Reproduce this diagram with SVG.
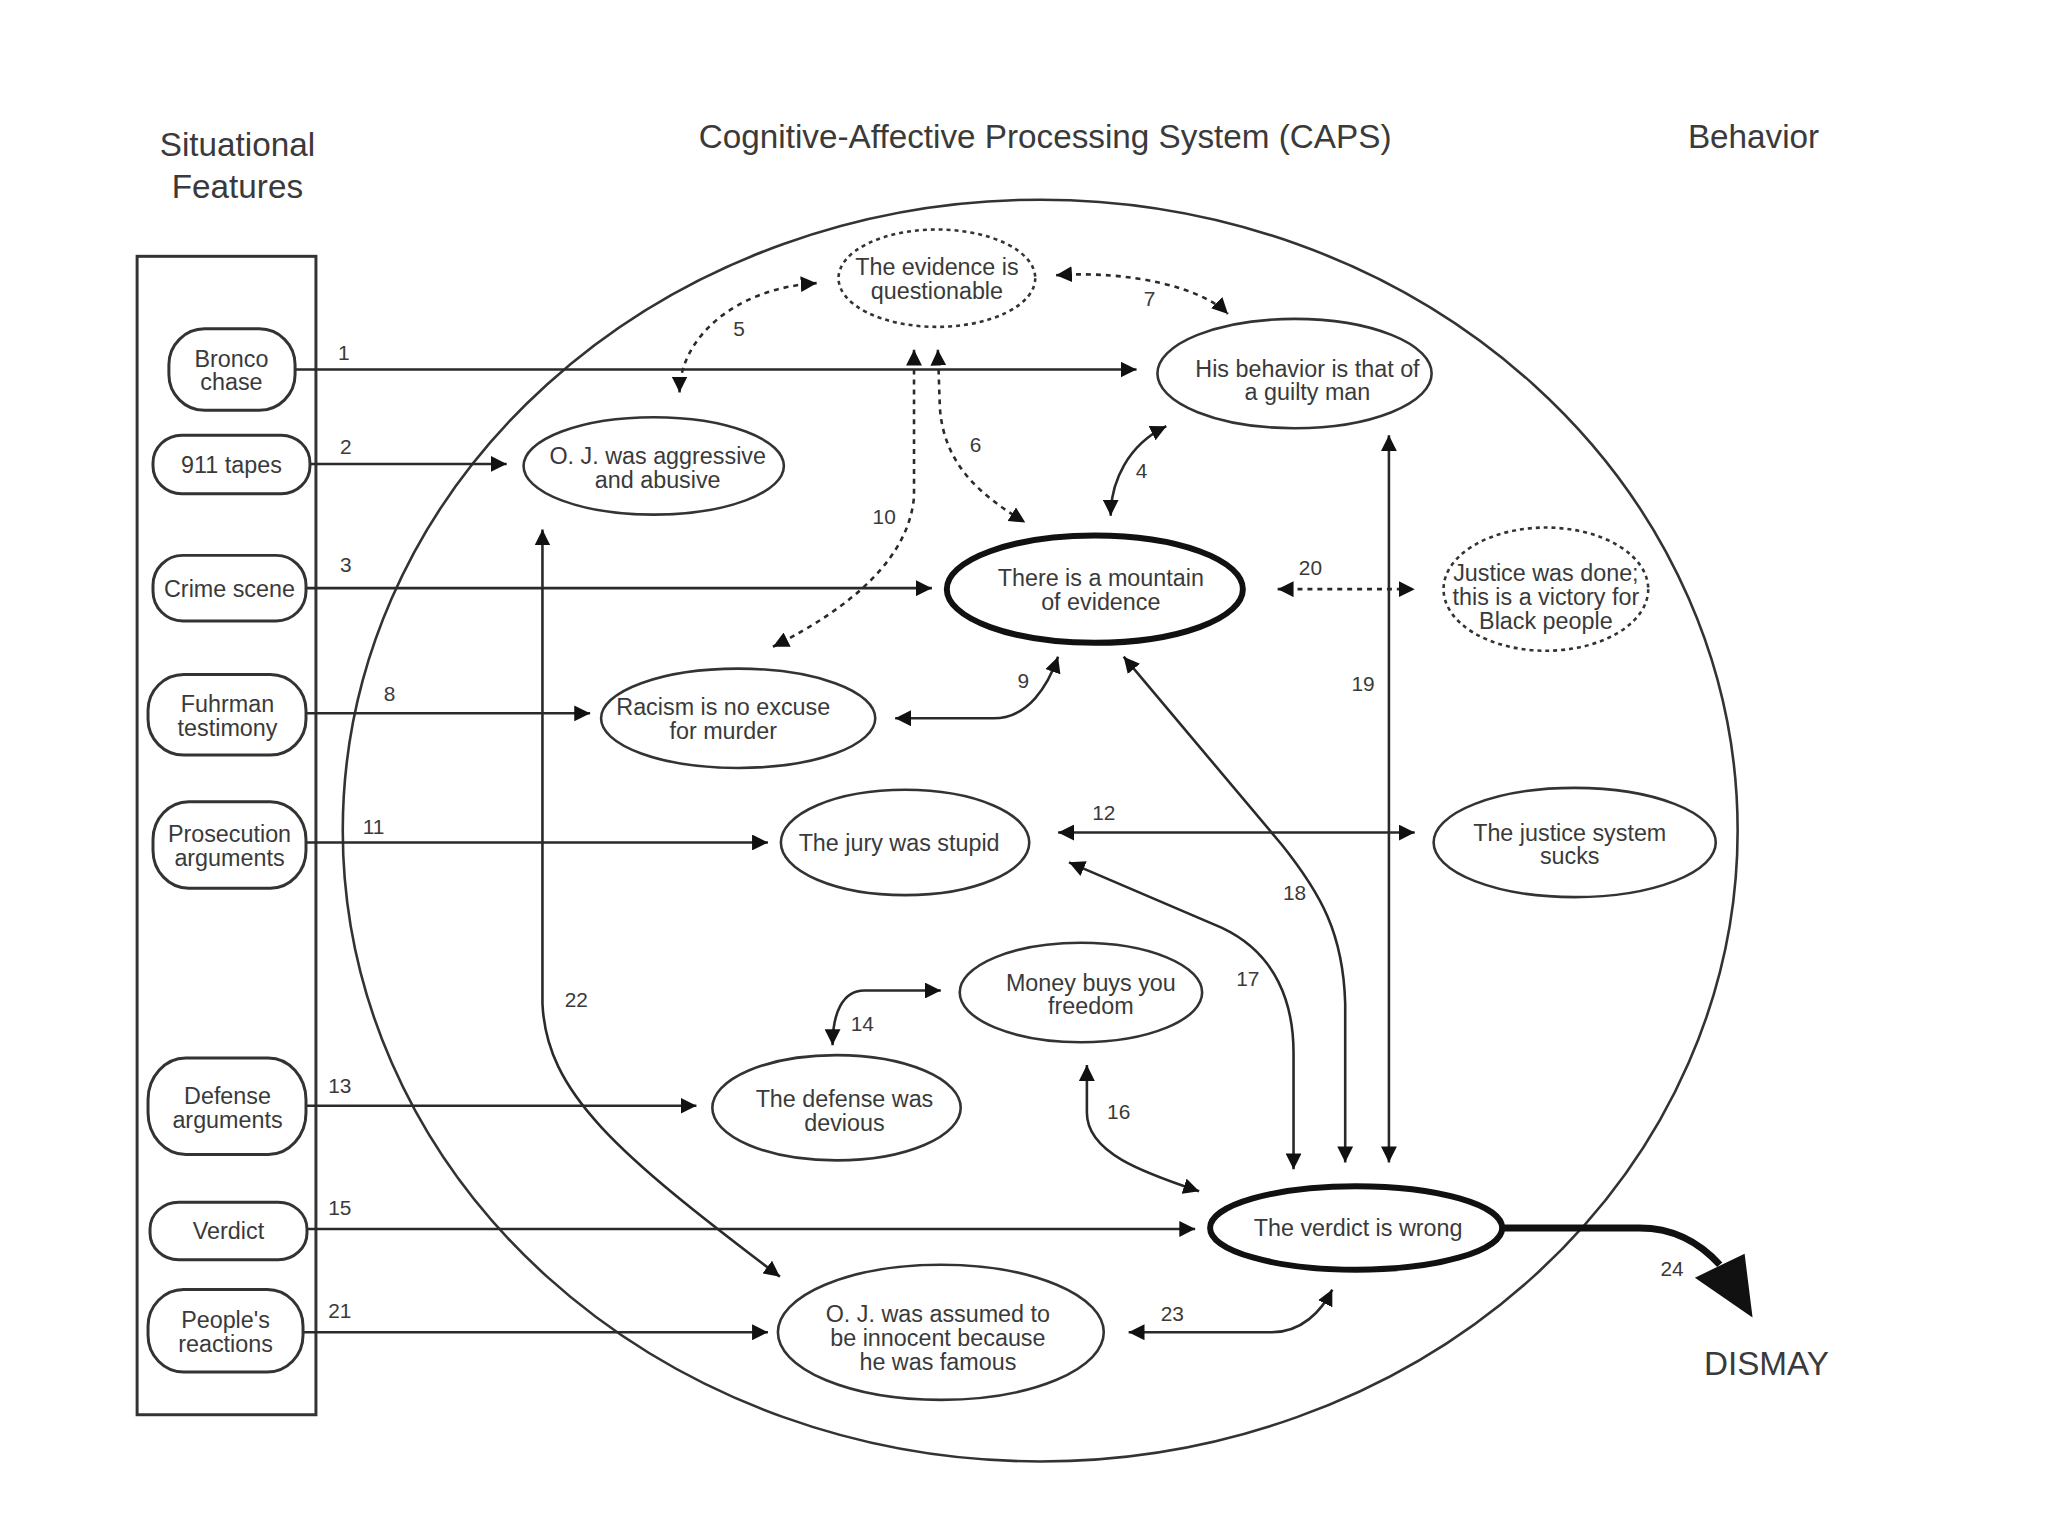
<svg xmlns="http://www.w3.org/2000/svg" width="2048" height="1536" viewBox="0 0 2048 1536">
<style>
text{font-family:"Liberation Sans",Arial,sans-serif;fill:#3a3a3a;text-anchor:middle}
.t{font-size:23.5px}
.lbl{font-size:21px}
.title{font-size:33.5px}
.sit{fill:#fff;stroke:#333;stroke-width:3}
.n{fill:#fff;stroke:#333;stroke-width:2.6}
.d{fill:#fff;stroke:#333;stroke-width:2.6;stroke-dasharray:4 4}
.k{fill:#fff;stroke:#111;stroke-width:6}
.c{fill:none;stroke:#2a2a2a;stroke-width:2.6}
.cd{fill:none;stroke:#2a2a2a;stroke-width:2.6;stroke-dasharray:5 5}
</style>
<defs>
<marker id="ah" viewBox="0 0 10 10" refX="10" refY="5" markerWidth="16" markerHeight="16" markerUnits="userSpaceOnUse" orient="auto-start-reverse">
<path d="M0,0 L10,5 L0,10 z" fill="#111"/>
</marker>
</defs>
<rect width="2048" height="1536" fill="#fff"/>
<g transform="scale(0.9935)">
<g id="titles">
<text class="title" x="239" y="157">Situational</text>
<text class="title" x="239" y="199">Features</text>
<text class="title" x="1052" y="149">Cognitive-Affective Processing System (CAPS)</text>
<text class="title" x="1765" y="149">Behavior</text>
</g>

<g id="frames">
<rect x="138" y="258" width="180" height="1166" fill="none" stroke="#333" stroke-width="3"/>
<ellipse cx="1047" cy="836" rx="702" ry="635" fill="none" stroke="#333" stroke-width="2.6"/>
</g>

<g id="connectors">
<path class="c" d="M297 372 L1144 372" marker-end="url(#ah)"/>
<path class="c" d="M312 467 L510 467" marker-end="url(#ah)"/>
<path class="c" d="M308 592 L938 592" marker-end="url(#ah)"/>
<path class="c" d="M308 718 L594 718" marker-end="url(#ah)"/>
<path class="c" d="M308 848 L773 848" marker-end="url(#ah)"/>
<path class="c" d="M308 1113 L701 1113" marker-end="url(#ah)"/>
<path class="c" d="M309 1237 L1203 1237" marker-end="url(#ah)"/>
<path class="c" d="M305 1341 L773 1341" marker-end="url(#ah)"/>
<path class="cd" d="M684 395 C684 340 740 290 822 285" marker-start="url(#ah)" marker-end="url(#ah)"/>
<path class="cd" d="M1063 277 C1140 272 1210 290 1236 316" marker-start="url(#ah)" marker-end="url(#ah)"/>
<path class="cd" d="M944 352 L946 410 C950 470 990 500 1032 526" marker-start="url(#ah)" marker-end="url(#ah)"/>
<path class="cd" d="M920 352 L920 500 C915 560 860 610 778 651" marker-start="url(#ah)" marker-end="url(#ah)"/>
<path class="c" d="M1174 429 C1135 448 1118 485 1118 519" marker-start="url(#ah)" marker-end="url(#ah)"/>
<path class="cd" d="M1286 593 L1424 593" marker-start="url(#ah)" marker-end="url(#ah)"/>
<path class="c" d="M1398 438 L1398 1170" marker-start="url(#ah)" marker-end="url(#ah)"/>
<path class="c" d="M901 723 L1000 723 C1035 723 1055 690 1065 661" marker-start="url(#ah)" marker-end="url(#ah)"/>
<path class="c" d="M1065 838 L1424 838" marker-start="url(#ah)" marker-end="url(#ah)"/>
<path class="c" d="M1131 661 L1290 850 C1330 900 1352 940 1354 1010 L1354 1170" marker-start="url(#ah)" marker-end="url(#ah)"/>
<path class="c" d="M1076 868 L1230 934 C1285 960 1302 1010 1302 1060 L1302 1177" marker-start="url(#ah)" marker-end="url(#ah)"/>
<path class="c" d="M947 997 L870 997 C848 997 838 1020 838 1052" marker-start="url(#ah)" marker-end="url(#ah)"/>
<path class="c" d="M1094 1072 L1094 1120 C1094 1160 1150 1180 1207 1199" marker-start="url(#ah)" marker-end="url(#ah)"/>
<path class="c" d="M546 533 L546 1010 C550 1100 620 1160 785 1285" marker-start="url(#ah)" marker-end="url(#ah)"/>
<path class="c" d="M1136 1341 L1280 1341 C1310 1341 1330 1320 1341 1298" marker-start="url(#ah)" marker-end="url(#ah)"/>
<path d="M1512 1236 L1650 1236 C1685 1236 1710 1250 1731 1273" fill="none" stroke="#111" stroke-width="7"/>
<polygon points="1706,1286 1756,1262 1764,1326" fill="#111"/>
<g class="lbls">
<text class="lbl" x="346" y="362">1</text>
<text class="lbl" x="348" y="457">2</text>
<text class="lbl" x="348" y="576">3</text>
<text class="lbl" x="1149" y="481">4</text>
<text class="lbl" x="744" y="338">5</text>
<text class="lbl" x="982" y="455">6</text>
<text class="lbl" x="1157" y="308">7</text>
<text class="lbl" x="392" y="706">8</text>
<text class="lbl" x="1030" y="692">9</text>
<text class="lbl" x="890" y="527">10</text>
<text class="lbl" x="376" y="839">11</text>
<text class="lbl" x="1111" y="825">12</text>
<text class="lbl" x="342" y="1100">13</text>
<text class="lbl" x="868" y="1038">14</text>
<text class="lbl" x="342" y="1223">15</text>
<text class="lbl" x="1126" y="1126">16</text>
<text class="lbl" x="1256" y="992">17</text>
<text class="lbl" x="1303" y="906">18</text>
<text class="lbl" x="1372" y="696">19</text>
<text class="lbl" x="1319" y="579">20</text>
<text class="lbl" x="342" y="1327">21</text>
<text class="lbl" x="580" y="1014">22</text>
<text class="lbl" x="1180" y="1330">23</text>
<text class="lbl" x="1683" y="1284">24</text>
</g>
</g>

<g id="n-bronco"><rect class="sit" x="170" y="331" width="127" height="82" rx="36" ry="36"/><text class="t" x="233" y="369">Bronco</text><text class="t" x="233" y="393">chase</text></g>
<g id="n-911"><rect class="sit" x="154" y="438" width="158" height="59" rx="29" ry="28"/><text class="t" x="233" y="476">911 tapes</text></g>
<g id="n-crime"><rect class="sit" x="154" y="559" width="154" height="66" rx="30" ry="30"/><text class="t" x="231" y="601">Crime scene</text></g>
<g id="n-fuhrman"><rect class="sit" x="149" y="679" width="159" height="81" rx="36" ry="36"/><text class="t" x="229" y="717">Fuhrman</text><text class="t" x="229" y="741">testimony</text></g>
<g id="n-prosecution"><rect class="sit" x="154" y="807" width="154" height="87" rx="36" ry="38"/><text class="t" x="231" y="848">Prosecution</text><text class="t" x="231" y="872">arguments</text></g>
<g id="n-defense"><rect class="sit" x="149" y="1065" width="159" height="97" rx="38" ry="42"/><text class="t" x="229" y="1111">Defense</text><text class="t" x="229" y="1135">arguments</text></g>
<g id="n-verdict"><rect class="sit" x="151" y="1210" width="158" height="58" rx="29" ry="27"/><text class="t" x="230" y="1247">Verdict</text></g>
<g id="n-people"><rect class="sit" x="149" y="1298" width="156" height="83" rx="36" ry="37"/><text class="t" x="227" y="1337">People's</text><text class="t" x="227" y="1361">reactions</text></g>

<g id="n-questionable"><ellipse class="d" cx="943" cy="280" rx="99" ry="49"/><text class="t" x="943" y="277">The evidence is</text><text class="t" x="943" y="301">questionable</text></g>
<g id="n-guilty"><ellipse class="n" cx="1303" cy="376" rx="138" ry="55"/><text class="t" x="1316" y="379">His behavior is that of</text><text class="t" x="1316" y="403">a guilty man</text></g>
<g id="n-aggressive"><ellipse class="n" cx="658" cy="469" rx="131" ry="49"/><text class="t" x="662" y="467">O. J. was aggressive</text><text class="t" x="662" y="491">and abusive</text></g>
<g id="n-mountain"><ellipse class="k" cx="1102" cy="593" rx="149" ry="54"/><text class="t" x="1108" y="590">There is a mountain</text><text class="t" x="1108" y="614">of evidence</text></g>
<g id="n-justice"><ellipse class="d" cx="1556" cy="593" rx="103" ry="62"/><text class="t" x="1556" y="585">Justice was done;</text><text class="t" x="1556" y="609">this is a victory for</text><text class="t" x="1556" y="633">Black people</text></g>
<g id="n-racism"><ellipse class="n" cx="743" cy="723" rx="138" ry="50"/><text class="t" x="728" y="720">Racism is no excuse</text><text class="t" x="728" y="744">for murder</text></g>
<g id="n-jury"><ellipse class="n" cx="911" cy="848" rx="125" ry="53"/><text class="t" x="905" y="857">The jury was stupid</text></g>
<g id="n-system"><ellipse class="n" cx="1585" cy="848" rx="142" ry="55"/><text class="t" x="1580" y="846">The justice system</text><text class="t" x="1580" y="870">sucks</text></g>
<g id="n-money"><ellipse class="n" cx="1088" cy="999" rx="122" ry="50"/><text class="t" x="1098" y="997">Money buys you</text><text class="t" x="1098" y="1021">freedom</text></g>
<g id="n-devious"><ellipse class="n" cx="842" cy="1115" rx="125" ry="53"/><text class="t" x="850" y="1114">The defense was</text><text class="t" x="850" y="1138">devious</text></g>
<g id="n-wrong"><ellipse class="k" cx="1365" cy="1236" rx="147" ry="42"/><text class="t" x="1367" y="1244">The verdict is wrong</text></g>
<g id="n-famous"><ellipse class="n" cx="947" cy="1341" rx="164" ry="68"/><text class="t" x="944" y="1331">O. J. was assumed to</text><text class="t" x="944" y="1355">be innocent because</text><text class="t" x="944" y="1379">he was famous</text></g>

<g id="n-dismay"><text x="1778" y="1384" style="font-size:33.5px">DISMAY</text></g>
</g>
</svg>
